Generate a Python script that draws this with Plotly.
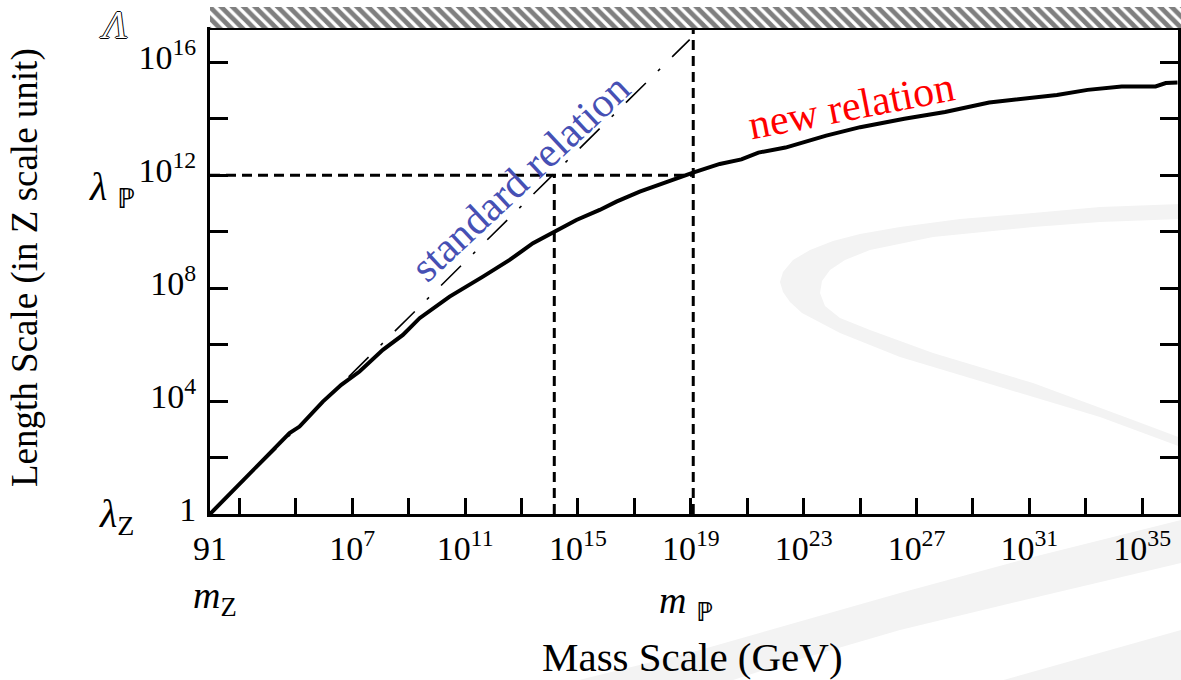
import numpy as np
import plotly.graph_objects as go

# ---------------- data (log10 values) ----------------
new_rel_log10_mass = [1.959, 3.360, 3.714, 4.246, 4.778, 5.133, 5.959, 6.612, 7.260, 8.087,
                      8.796, 9.388, 10.452, 11.633, 12.580, 13.406, 14.175, 14.945, 15.771,
                      16.363, 17.190, 18.136, 19.080, 20.027, 20.793, 21.396, 22.356, 23.800,
                      25.005, 26.569, 28.012, 29.576, 31.020, 31.977, 33.065, 34.271, 35.473,
                      35.835, 36.267]
new_rel_log10_length = [0.000, 1.448, 1.802, 2.333, 2.864, 3.097, 3.982, 4.573, 5.044, 5.812,
                        6.343, 6.935, 7.699, 8.407, 8.998, 9.589, 10.000, 10.414, 10.768,
                        11.062, 11.416, 11.770, 12.088, 12.396, 12.556, 12.797, 12.977, 13.398,
                        13.699, 13.997, 14.237, 14.574, 14.719, 14.839, 15.020, 15.140, 15.140,
                        15.260, 15.282]

std_rel_log10_mass = [1.959, 18.96]
std_rel_log10_length = [0.0, 16.80]

m_Z = 91.0            # GeV
m_P = 1.22e19         # GeV
lambda_Z = 1.0
lambda_P = 1.0e12
m_cross = 1.45e14     # standard relation reaches lambda_P
Lambda_top = 10 ** 17.14

x_tick_vals = [91, 1e7, 1e11, 1e15, 1e19, 1e23, 1e27, 1e31, 1e35]
x_tick_text = ["91", "10<sup>7</sup>", "10<sup>11</sup>", "10<sup>15</sup>", "10<sup>19</sup>",
               "10<sup>23</sup>", "10<sup>27</sup>", "10<sup>31</sup>", "10<sup>35</sup>"]
x_minor_vals = [1e3, 1e5, 1e9, 1e13, 1e17, 1e21, 1e25, 1e29, 1e33]
y_tick_vals = [1, 1e4, 1e8, 1e12, 1e16]
y_tick_text = ["1", "10<sup>4</sup>", "10<sup>8</sup>", "10<sup>12</sup>", "10<sup>16</sup>"]
y_minor_vals = [1e2, 1e6, 1e10, 1e14]
hatch_band = [1]

# ---------------- geometry ----------------
W, H = 1181, 680
ML, MR, MT, MB = 210, 0, 7, 166
PW, PH = W - ML - MR, H - MT - MB
X_DOM_END = (1177.5 - ML) / PW
Y_DOM_END = (514 - 30) / PH


def px(x, y):
    return (x - ML) / PW, (H - MB - y) / PH


def path_from(points):
    pts = [px(x, y) for x, y in points]
    return "M " + " L ".join(f"{a:.5f},{b:.5f}" for a, b in pts) + " Z"


SERIF = "Liberation Serif, Times New Roman, serif"

fig = go.Figure()

# hatched band above the frame
fig.add_trace(go.Bar(x=[0.5], y=hatch_band, width=[1], xaxis="x2", yaxis="y2",
                     marker=dict(color="white", line=dict(width=0),
                                 pattern=dict(shape="\\", fgcolor="black", bgcolor="white",
                                              size=8, solidity=0.6)),
                     hoverinfo="skip", showlegend=False))

# reference dashed lines
dash_style = dict(color="black", width=3, dash="10px,6px")
fig.add_trace(go.Scatter(x=[m_P, m_P], y=[lambda_Z, Lambda_top], mode="lines",
                         line=dash_style, hoverinfo="skip", showlegend=False))
fig.add_trace(go.Scatter(x=[m_Z, m_P], y=[lambda_P, lambda_P], mode="lines",
                         line=dash_style, hoverinfo="skip", showlegend=False))
fig.add_trace(go.Scatter(x=[m_cross, m_cross], y=[lambda_Z, lambda_P], mode="lines",
                         line=dash_style, hoverinfo="skip", showlegend=False))

# standard relation
fig.add_trace(go.Scatter(x=np.power(10.0, std_rel_log10_mass),
                         y=np.power(10.0, std_rel_log10_length), mode="lines",
                         line=dict(color="black", width=1.6, dash="28px,17px,3px,17px"),
                         name="standard relation", showlegend=False))

# new relation
fig.add_trace(go.Scatter(x=np.power(10.0, new_rel_log10_mass),
                         y=np.power(10.0, new_rel_log10_length), mode="lines",
                         line=dict(color="black", width=4),
                         name="new relation", showlegend=False))

# watermark swooshes (page decoration)
band1 = [(1181, 204), (1100, 207), (1033, 213), (960, 219), (900, 227), (860, 234), (833, 241),
         (810, 250), (793, 260), (783, 272), (780, 282), (783, 292), (790, 302), (802, 313),
         (840, 333), (900, 357), (1000, 387), (1100, 417), (1181, 447),
         (1181, 438), (1133, 420), (1033, 383), (933, 353), (870, 330), (840, 318), (825, 306),
         (820, 293), (822, 281), (830, 270), (845, 260), (870, 250), (933, 237), (1033, 227),
         (1100, 222), (1181, 219)]
band2 = [(575, 681), (700, 650), (900, 593), (1033, 557), (1181, 520),
         (1181, 563), (1033, 598), (900, 630), (780, 665), (730, 681)]
band3 = [(1000, 681), (1181, 630), (1181, 681)]
shapes = []
for b in (band1, band2, band3):
    shapes.append(dict(type="path", xref="paper", yref="paper", path=path_from(b),
                       fillcolor="#f3f3f3", line=dict(width=0), layer="below"))

annotations = []


def ann(text, x, y, size, color="black", angle=0, shadow=None):
    xp, yp = px(x, y)
    font = dict(family=SERIF, size=size, color=color)
    if shadow:
        font["shadow"] = shadow
    annotations.append(dict(text=text, x=xp, y=yp, xref="paper", yref="paper",
                            showarrow=False, textangle=angle, font=font,
                            xanchor="center", yanchor="middle"))


ann("standard relation", 520, 178, 42, color="#4650b4", angle=-43)
ann("new relation", 851, 106, 42, color="#ff0000", angle=-11)
ann("Mass Scale (GeV)", 692.5, 657, 41)
ann("Length Scale (in Z scale unit)", 25, 268, 37, angle=-90)
ann("<i>m</i><sub>Z</sub>", 215, 598, 38)
ann("<i>m</i> <sub>ℙ</sub>", 686, 603, 38)
ann("<i>λ</i><sub>Z</sub>", 116, 516, 40)
ann("<i>λ</i> <sub>ℙ</sub>", 112, 189, 40)
ann("<i>Λ</i>", 113, 25, 40, color="white",
    shadow="1px 0 0 #000, -1px 0 0 #000, 0 1px 0 #000, 0 -1px 0 #000")

tick_common = dict(ticks="inside", tickwidth=3, tickcolor="black", showline=True, linewidth=3,
                   linecolor="black", showgrid=False, zeroline=False)

fig.update_layout(
    width=W, height=H,
    margin=dict(l=ML, r=MR, t=MT, b=MB, pad=0),
    paper_bgcolor="white", plot_bgcolor="rgba(0,0,0,0)",
    showlegend=False,
    font=dict(family=SERIF, size=33, color="black"),
    shapes=shapes, annotations=annotations,
    xaxis=dict(type="log", domain=[0, X_DOM_END], range=[np.log10(m_Z), 36.25],
               tickmode="array", tickvals=x_tick_vals, ticktext=x_tick_text,
               ticklen=16, mirror=True, anchor="y",
               minor=dict(tickmode="array", tickvals=x_minor_vals, ticks="inside", ticklen=16,
                          tickwidth=3, tickcolor="black", showgrid=False),
               tickfont=dict(family=SERIF, size=34), ticklabelstandoff=2, **tick_common),
    yaxis=dict(type="log", domain=[0, Y_DOM_END], range=[0, 17.14],
               tickmode="array", tickvals=y_tick_vals, ticktext=y_tick_text,
               ticklen=18, mirror="ticks", anchor="x",
               minor=dict(tickmode="array", tickvals=y_minor_vals, ticks="inside", ticklen=18,
                          tickwidth=3, tickcolor="black", showgrid=False),
               tickfont=dict(family=SERIF, size=34), ticklabelstandoff=4,
               ticklabelshift=-5, **tick_common),
    xaxis2=dict(domain=[0, 1], range=[0, 1], visible=False, anchor="y2", fixedrange=True),
    yaxis2=dict(domain=[Y_DOM_END + 0.003, 1], range=[0, 1], visible=False, anchor="x2",
                fixedrange=True),
    bargap=0,
)

fig.write_html("out.html")
